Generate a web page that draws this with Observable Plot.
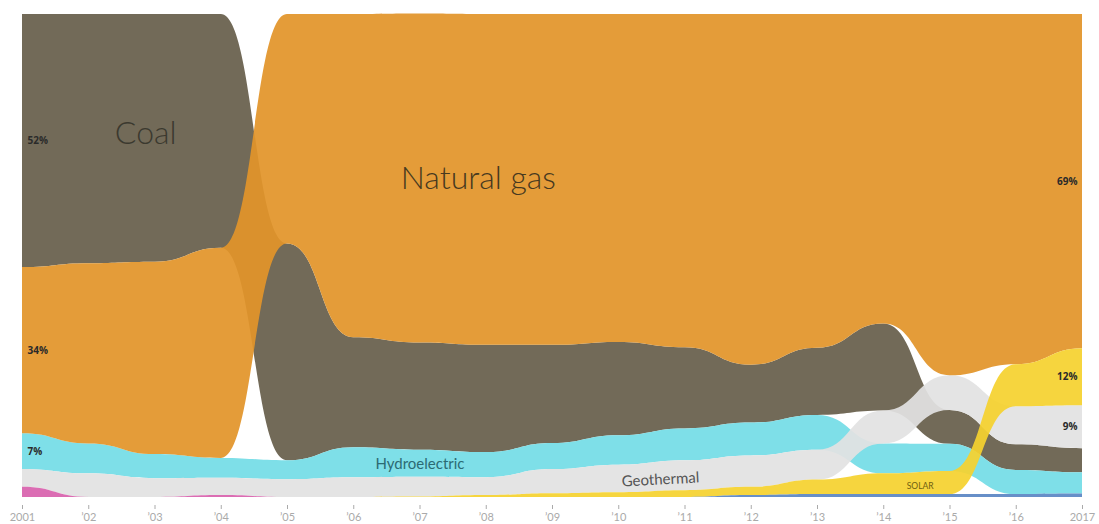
<!DOCTYPE html>
<html><head><meta charset="utf-8">
<script src="https://cdn.jsdelivr.net/npm/d3@7"></script>
<script src="https://cdn.jsdelivr.net/npm/@observablehq/plot@0.6"></script>
<style>body{margin:0;background:#fff;} #chart svg{display:block;}</style>
</head><body><div id="chart"></div>
<script>
const years = [2001,2002,2003,2004,2005,2006,2007,2008,2009,2010,2011,2012,2013,2014,2015,2016,2017];
const coal          = [52.4,51.6,51.3,48.4,44.9,22.8,22.2,22.2,20.3,19.3,16.8,12.0,13.9,18.0, 7.0, 5.3, 5.0];
const naturalGas    = [34.4,37.3,39.8,43.5,47.5,66.9,68.1,68.5,68.5,67.9,69.0,72.6,69.1,64.1,74.8,72.5,69.2];
const hydroelectric = [ 7.4, 6.2, 5.0, 4.1, 3.9, 6.2, 5.6, 5.2, 5.4, 6.1, 6.6, 6.8, 7.2, 6.2, 5.6, 5.0, 4.4];
const geothermal    = [ 3.7, 4.9, 3.9, 3.6, 3.7, 4.1, 4.1, 3.7, 5.0, 5.7, 6.2, 6.5, 6.2, 6.8, 7.2, 7.9, 8.9];
const solar         = [ 0,   0,   0,   0,   0,   0,   0.1, 0.4, 0.8, 1.0, 1.4, 1.7, 3.0, 4.3, 4.8, 8.7,11.8];
const other         = [ 2.1, 0,   0,   0.4, 0,   0,   0,   0,   0,   0,   0,   0,   0,   0,   0,   0,   0  ];
const wind          = [ 0,   0,   0,   0,   0,   0,   0,   0,   0,   0,   0,   0.4, 0.6, 0.6, 0.6, 0.6, 0.7];
const tickLabels = ["2001","’02","’03","’04","’05","’06","’07","’08","’09","’10","’11","’12","’13","’14","’15","’16","2017"];
const sourceNames = ["Coal","Natural gas","Hydroelectric","Geothermal","Solar","Other","Wind"];

const series = {"Coal": coal, "Natural gas": naturalGas, "Hydroelectric": hydroelectric,
  "Geothermal": geothermal, "Solar": solar, "Other": other, "Wind": wind};
const colors = {"Coal": "#675f4b", "Natural gas": "#e2942a", "Hydroelectric": "#74dde6",
  "Geothermal": "#e2e2e2", "Solar": "#f5d22f", "Other": "#d862ad", "Wind": "#5b86c4"};
const drawOrder = ["Coal","Hydroelectric","Geothermal","Natural gas","Solar","Other","Wind"];

// ranked stack: largest share on top each year
const rows = [];
years.forEach((yr, i) => {
  const order = sourceNames.map((s, k) => ({s, k, v: series[s][i]}))
    .sort((a, b) => a.v - b.v || b.k - a.k);
  let acc = 0;
  for (const o of order) {
    rows.push({source: o.s, year: yr, y1: acc, y2: acc + o.v, value: o.v});
    acc += o.v;
  }
});

const areas = drawOrder.map(s => Plot.area(rows.filter(r => r.source === s), {
  x1: "year", y1: "y1", y2: "y2", fill: colors[s], fillOpacity: 0.93, curve: "bump-x"
}));

const leftPct = rows.filter(r => r.year === years[0] && r.value >= 7);
const rightPct = rows.filter(r => r.year === years[years.length - 1] && r.value >= 7);

const names = [
  {t: "Coal", x: 2002.86, y: 75.4, size: 32, c: "#3b392f", r: 0, w: 300},
  {t: "Natural gas", x: 2007.88, y: 66.0, size: 32, c: "#47391f", r: 0, w: 300},
  {t: "Hydroelectric", x: 2007.0, y: 7.0, size: 15, c: "#2c6b74", r: 0, w: 400},
  {t: "Geothermal", x: 2010.63, y: 3.7, size: 15, c: "#555555", r: -3, w: 400},
  {t: "SOLAR", x: 2014.55, y: 2.3, size: 8.5, c: "#6f5e10", r: 0, w: 400}
];

const chart = Plot.plot({
  width: 1099, height: 524,
  marginTop: 14, marginBottom: 27, marginLeft: 22, marginRight: 17,
  style: {fontFamily: "Lato, sans-serif", background: "#fff"},
  x: {domain: [2001, 2017]},
  y: {domain: [0, 100], axis: null},
  marks: [
    ...areas,
    Plot.axisX({ticks: years, tickFormat: d => tickLabels[years.indexOf(d)], tickSize: 4,
      tickPadding: 4, dy: 8, fontSize: 11, color: "#aaaaaa", label: null}),
    Plot.text(leftPct, {x: "year", y: d => (d.y1 + d.y2) / 2, text: d => Math.round(d.value) + "%",
      textAnchor: "start", dx: 5, fontSize: 10, fontWeight: "bold", fill: "#2a2a2a",
      fontFamily: "Open Sans, sans-serif"}),
    Plot.text(rightPct, {x: "year", y: d => (d.y1 + d.y2) / 2, text: d => Math.round(d.value) + "%",
      textAnchor: "end", dx: -5, fontSize: 10, fontWeight: "bold", fill: "#2a2a2a",
      fontFamily: "Open Sans, sans-serif"}),
    ...names.map(n => Plot.text([n], {x: "x", y: "y", text: "t", fontSize: n.size, fill: n.c,
      rotate: n.r, fontWeight: n.w, fontFamily: "Lato, sans-serif"}))
  ]
});
document.getElementById("chart").appendChild(chart);
</script>
</body></html>
